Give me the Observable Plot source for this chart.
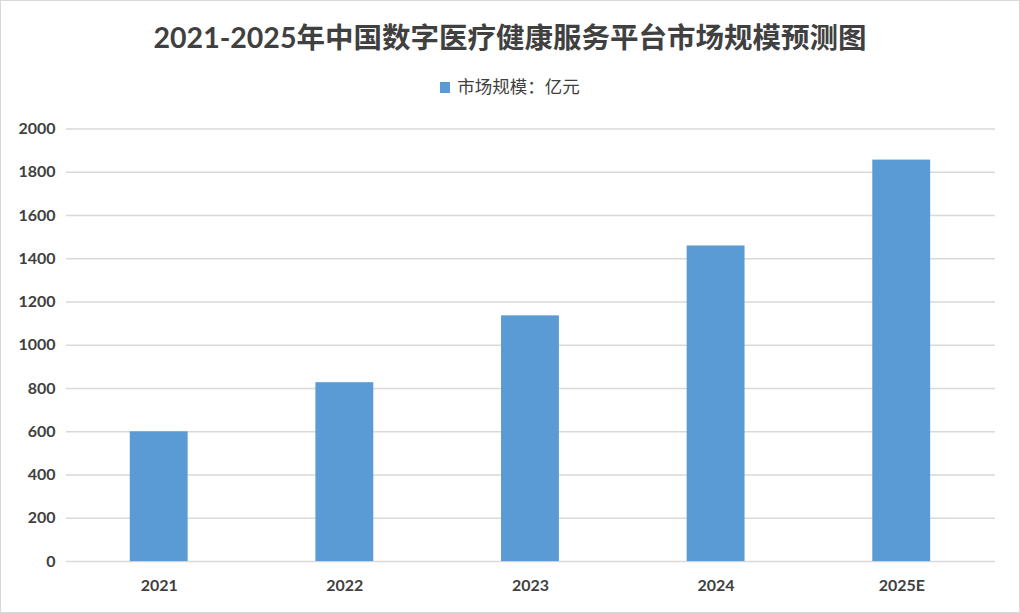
<!DOCTYPE html>
<html>
<head>
<meta charset="utf-8">
<script src="https://cdn.jsdelivr.net/npm/d3@7"></script>
<script src="https://cdn.jsdelivr.net/npm/@observablehq/plot@0.6"></script>
<style>
  html, body { margin: 0; padding: 0; background: #fff; }
  #wrap { position: relative; width: 1020px; height: 613px; box-sizing: border-box; border: 1px solid #d9d9d9; overflow: hidden; }
  #title { position: absolute; left: 0; right: 0; top: 16px; text-align: center; font-family: "Lato", "Noto Sans CJK SC", sans-serif; font-weight: bold; font-size: 28.5px; color: #404040; line-height: 40px; white-space: nowrap; }
  #legend { position: absolute; left: 0; right: 0; top: 72px; text-align: center; font-family: "Noto Sans CJK SC", sans-serif; font-size: 17.5px; color: #404040; line-height: 26px; }
  #legend .sw { display: inline-block; width: 10px; height: 11px; background: #5b9bd5; margin-right: 7px; vertical-align: 0px; }
  #chart { position: absolute; left: 0; top: 100px; }
</style>
</head>
<body>
<div id="wrap">
  <div id="title">2021-2025年中国数字医疗健康服务平台市场规模预测图</div>
  <div id="legend"><span class="sw"></span>市场规模：亿元</div>
  <div id="chart"></div>
</div>
<script>
const years = ["2021", "2022", "2023", "2024", "2025E"];
const values = [600, 827, 1136, 1459, 1856];
const yTicks = [0, 200, 400, 600, 800, 1000, 1200, 1400, 1600, 1800, 2000];
const seriesName = "市场规模：亿元";

const data = years.map((y, i) => ({year: y, value: values[i]}));

const chart = Plot.plot({
  width: 1020,
  height: 513,
  marginTop: 27.5,
  marginBottom: 52,
  marginLeft: 65,
  marginRight: 24,
  style: {fontFamily: "Lato, 'Liberation Sans', sans-serif", background: "transparent"},
  x: {domain: years, paddingInner: 0.688, paddingOuter: 0.344, label: null},
  y: {domain: [0, 2000], label: null},
  marks: [
    Plot.gridY(yTicks, {stroke: "#d9d9d9", strokeOpacity: 1, strokeWidth: 1.5}),
    Plot.barY(data, {x: "year", y: "value", fill: "#5b9bd5"}),
    Plot.axisX({tickSize: 0, tickPadding: 18, fontSize: 16, fontWeight: "bold", fill: "#404040", label: null}),
    Plot.axisY(yTicks, {tickSize: 0, tickPadding: 11, fontSize: 16, fontWeight: "bold", fill: "#404040", label: null, tickFormat: d => String(d)})
  ]
});
document.getElementById("chart").appendChild(chart);
</script>
</body>
</html>
